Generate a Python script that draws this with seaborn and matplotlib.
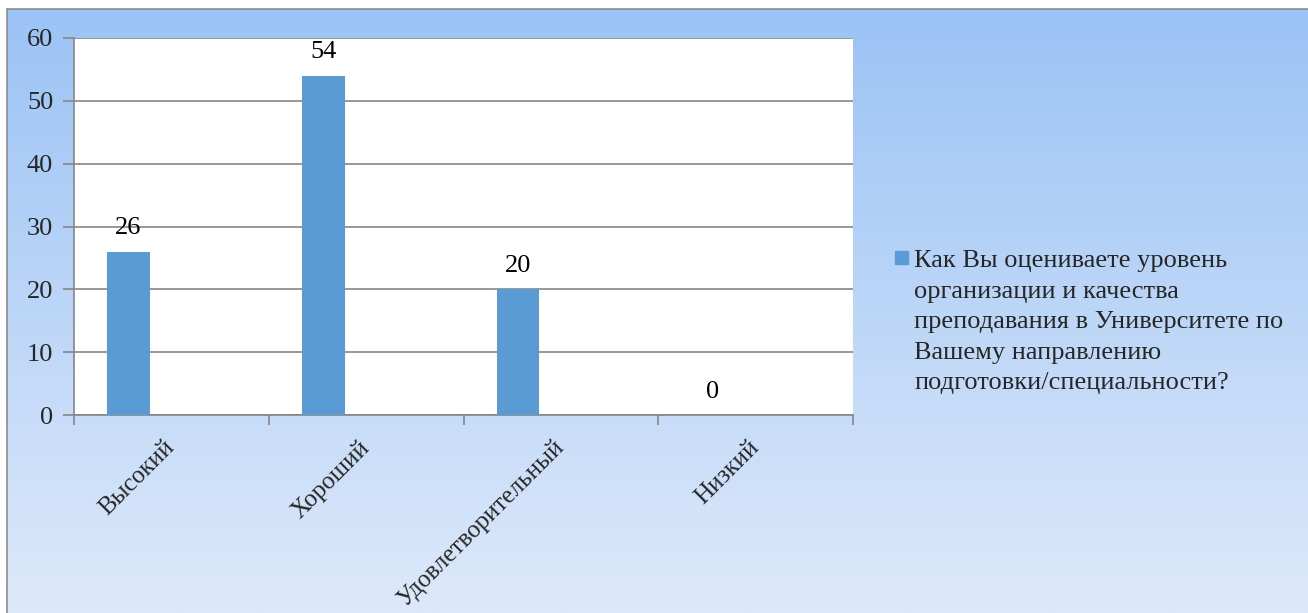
import numpy as np
import pandas as pd
import matplotlib
matplotlib.use("Agg")
import matplotlib.pyplot as plt
from matplotlib.patches import Rectangle
from matplotlib.lines import Line2D
import seaborn as sns

categories = ["Высокий", "Хороший", "Удовлетворительный", "Низкий"]
values = [26, 54, 20, 0]
series_name = ("Как Вы оцениваете уровень\nорганизации и качества\n"
               "преподавания в Университете по\nВашему направлению\n"
               "подготовки/специальности?")
y_ticks = [0, 10, 20, 30, 40, 50, 60]

sns.set_theme(style="white")
plt.rcParams['font.family'] = ['Liberation Serif', 'DejaVu Serif']

W, H = 1308, 613
fig = plt.figure(figsize=(W / 100, H / 100), dpi=100)
fig.patch.set_facecolor("white")

# gradient chart-area background
bg = fig.add_axes([7 / W, 0, 1 - 7 / W, 1 - 9 / H], zorder=-10)
top = np.array([155, 195, 245]) / 255
bot = np.array([221, 233, 250]) / 255
t = np.linspace(0, 1, 256)[:, None]
grad = (top[None, :] * (1 - t) + bot[None, :] * t)[:, None, :]
bg.imshow(grad, aspect="auto", extent=[0, 1, 0, 1], origin="upper")
bg.set_axis_off()
fig.add_artist(Line2D([7 / W, 7 / W], [0, 1 - 9 / H], transform=fig.transFigure,
                      color="#8c8c8c", lw=1.2))
fig.add_artist(Line2D([7 / W, 1], [1 - 9 / H, 1 - 9 / H], transform=fig.transFigure,
                      color="#8c8c8c", lw=1.2))

# plot area
ax = fig.add_axes([74 / W, 1 - 415 / H, (853 - 74) / W, (415 - 38) / H])
ax.set_facecolor("white")

rows = []
for c, v in zip(categories, values):
    rows.append({"cat": c, "val": v, "s": "A"})
    rows.append({"cat": c, "val": 0, "s": "B"})
    rows.append({"cat": c, "val": 0, "s": "C"})
df = pd.DataFrame(rows)

sns.barplot(data=df, x="cat", y="val", hue="s", hue_order=["A", "B", "C"],
            order=categories, palette=["#5B9BD5", "#5B9BD5", "#5B9BD5"],
            saturation=1, width=0.66, dodge=True, ax=ax, legend=False,
            linewidth=0, zorder=3)

for p in ax.patches:
    p.set_zorder(3)

ax.bar_label(ax.containers[0], labels=[str(v) for v in values], padding=9,
             fontsize=19, color="black", zorder=4)

ax.set_xlim(-0.5, 3.5)
ax.set_ylim(0, 60)
ax.set_yticks(y_ticks)
ax.set_yticklabels([str(v) for v in y_ticks], fontsize=19)
ax.yaxis.grid(True, color="#868686", lw=1.2, zorder=0)
ax.set_axisbelow(True)

ax.set_xticks(range(len(categories)))
ax.set_xticklabels(categories, fontsize=18, rotation=45, ha="right",
                   va="center", rotation_mode="anchor")
ax.set_xticks([-0.5, 0.5, 1.5, 2.5, 3.5], minor=True)
ax.tick_params(axis="x", which="major", length=0, pad=21)
ax.tick_params(axis="x", which="minor", length=7, color="#868686", width=1.2,
               bottom=True)
ax.tick_params(axis="y", length=8, color="#868686", width=1.2, left=True, pad=7)
ax.set_xlabel("")
ax.set_ylabel("")

for side in ["top", "right"]:
    ax.spines[side].set_visible(False)
for side in ["left", "bottom"]:
    ax.spines[side].set_color("#868686")
    ax.spines[side].set_linewidth(1.2)

# legend
fig.add_artist(Rectangle((895 / W, 1 - 264 / H), 13 / W, 13 / H,
                         transform=fig.transFigure, color="#5B9BD5"))
fig.text(914 / W, 1 - 250 / H, series_name, fontsize=19, va="top", ha="left",
         linespacing=1.5)

fig.savefig("out.png", dpi=100)
